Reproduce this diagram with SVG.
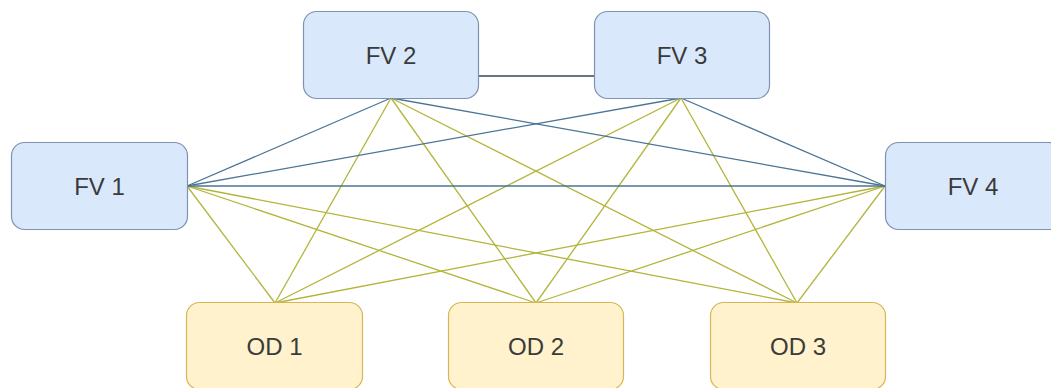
<svg xmlns="http://www.w3.org/2000/svg" width="1051" height="388" viewBox="0 0 1051 388">
<style>
.fv{fill:#dae8fc;stroke:#7d93b2;stroke-width:1.2}
.od{fill:#fff2cc;stroke:#d6b656;stroke-width:1.2}
.t{font-family:"Liberation Sans",Arial,sans-serif;font-size:24px;fill:#3a3a3a;text-anchor:middle;dominant-baseline:central}
.b{stroke:#4a7596;stroke-width:1.3;fill:none}
.y{stroke:#b3b53a;stroke-width:1.3;fill:none}
.k{stroke:#36474f;stroke-width:1.3;fill:none}
</style>
<rect width="1051" height="388" fill="#ffffff"/>
<g id="connectors">
<line class="k" x1="478" y1="76" x2="594" y2="76"/>
<line class="y" x1="187" y1="186" x2="275" y2="303"/>
<line class="y" x1="187" y1="186" x2="536" y2="303"/>
<line class="y" x1="187" y1="186" x2="797" y2="303"/>
<line class="y" x1="391" y1="98" x2="275" y2="303"/>
<line class="y" x1="391" y1="98" x2="536" y2="303"/>
<line class="y" x1="391" y1="98" x2="797" y2="303"/>
<line class="y" x1="681" y1="98" x2="275" y2="303"/>
<line class="y" x1="681" y1="98" x2="536" y2="303"/>
<line class="y" x1="681" y1="98" x2="797" y2="303"/>
<line class="y" x1="885" y1="186" x2="275" y2="303"/>
<line class="y" x1="885" y1="186" x2="536" y2="303"/>
<line class="y" x1="885" y1="186" x2="797" y2="303"/>
<line class="b" x1="187" y1="186" x2="391" y2="98"/>
<line class="b" x1="187" y1="186" x2="681" y2="98"/>
<line class="b" x1="187" y1="186" x2="885" y2="186"/>
<line class="b" x1="391" y1="98" x2="885" y2="186"/>
<line class="b" x1="681" y1="98" x2="885" y2="186"/>
</g>
<g id="fv1"><rect class="fv" x="11.5" y="142.5" width="176" height="87" rx="13"/><text class="t" x="99.5" y="186">FV 1</text></g>
<g id="fv2"><rect class="fv" x="303.5" y="11.5" width="175" height="87" rx="13"/><text class="t" x="391" y="55">FV 2</text></g>
<g id="fv3"><rect class="fv" x="594.5" y="11.5" width="175" height="87" rx="13"/><text class="t" x="682" y="55">FV 3</text></g>
<g id="fv4"><rect class="fv" x="885.5" y="142.5" width="176" height="87" rx="13"/><text class="t" x="973" y="186">FV 4</text></g>
<g id="od1"><rect class="od" x="186.5" y="302.5" width="176" height="87" rx="13"/><text class="t" x="274.5" y="346">OD 1</text></g>
<g id="od2"><rect class="od" x="448.5" y="302.5" width="175" height="87" rx="13"/><text class="t" x="536" y="346">OD 2</text></g>
<g id="od3"><rect class="od" x="710.5" y="302.5" width="175" height="87" rx="13"/><text class="t" x="798" y="346">OD 3</text></g>
</svg>
